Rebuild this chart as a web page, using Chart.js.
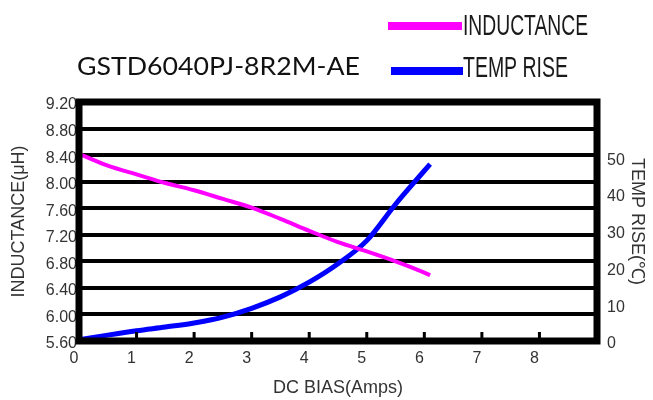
<!DOCTYPE html>
<html><head><meta charset="utf-8">
<script src="https://cdn.jsdelivr.net/npm/chart.js@4.4.1/dist/chart.umd.min.js"></script>
<style>html,body{margin:0;padding:0;background:#fff;} #wrap{width:653px;height:400px;position:relative;}</style>
</head><body><div id="wrap"><canvas id="c" width="653" height="400"></canvas></div>
<script>
const chartTitle = 'GSTD6040PJ-8R2M-AE';
const seriesNames = ['INDUCTANCE', 'TEMP RISE'];
const biasAmps   = [0, 0.5, 1, 1.5, 2, 2.5, 3, 3.5, 4, 4.5, 5, 5.5, 6, 6.1];
const inductance = [8.42, 8.24, 8.11, 7.98, 7.87, 7.74, 7.61, 7.44, 7.26, 7.09, 6.95, 6.80, 6.63, 6.59];
const tempRise   = [0.3, 1.6, 2.8, 3.8, 4.9, 6.5, 8.9, 12.0, 16.0, 21.0, 27.3, 37.2, 46.3, 48.1];
const xTickValues  = [0, 1, 2, 3, 4, 5, 6, 7, 8];
const yTickValues  = [5.6, 6.0, 6.4, 6.8, 7.2, 7.6, 8.0, 8.4, 8.8, 9.2];
const y1TickValues = [0, 10, 20, 30, 40, 50];
const xTitle = 'DC BIAS(Amps)';
const yTitle = 'INDUCTANCE(μH)';
const y1Title = 'TEMP RISE(℃)';

function fitText(ctx, text, x, baseline, targetW, capH, family, color) {
  const size = capH / 0.716;
  ctx.save();
  ctx.font = size + 'px ' + family;
  const w = ctx.measureText(text).width;
  ctx.translate(x, baseline);
  ctx.scale(targetW / w, 1);
  ctx.fillStyle = color;
  ctx.textBaseline = 'alphabetic';
  ctx.textAlign = 'left';
  ctx.fillText(text, 0, 0);
  ctx.restore();
}

const deco = {
  id: 'deco',
  afterDatasetsDraw(chart) {
    const ctx = chart.ctx, a = chart.chartArea, xs = chart.scales.x;
    ctx.save();
    ctx.fillStyle = '#000';
    for (let v = 1; v <= 8; v++) {
      const px = xs.getPixelForValue(v);
      ctx.fillRect(px - 1.5, a.bottom - 9, 3, 6);
    }
    ctx.strokeStyle = '#000';
    ctx.lineWidth = 7;
    ctx.strokeRect(a.left, a.top, a.right - a.left, a.bottom - a.top);
    ctx.restore();
  },
  afterDraw(chart) {
    const ctx = chart.ctx;
    fitText(ctx, chartTitle, 77, 75, 283, 18, 'Lato', '#111');
    ctx.save();
    ctx.fillStyle = '#ff00ff';
    ctx.fillRect(388, 22, 74, 8);
    ctx.fillStyle = '#0000ff';
    ctx.fillRect(391, 67, 72, 8);
    ctx.restore();
    fitText(ctx, seriesNames[0], 463, 35, 125, 21, '"Liberation Sans"', '#1a1a1a');
    fitText(ctx, seriesNames[1], 463, 77, 105, 21, '"Liberation Sans"', '#1a1a1a');
  }
};

const tickFont = {family: '"Liberation Sans"', size: 16};
const titleFont = {family: '"Liberation Sans"', size: 18};

new Chart(document.getElementById('c'), {
  type: 'line',
  data: {
    datasets: [
      {label: seriesNames[0], data: biasAmps.map((x, i) => ({x, y: inductance[i]})),
       borderColor: '#ff00ff', borderWidth: 4, pointRadius: 0, yAxisID: 'y',
       cubicInterpolationMode: 'monotone', fill: false},
      {label: seriesNames[1], data: biasAmps.map((x, i) => ({x, y: tempRise[i]})),
       borderColor: '#0000ff', borderWidth: 5, pointRadius: 0, yAxisID: 'y1',
       cubicInterpolationMode: 'monotone', fill: false}
    ]
  },
  options: {
    responsive: false, animation: false, devicePixelRatio: 1,
    layout: {padding: {top: 102, left: 0, right: 0, bottom: 0}},
    plugins: {legend: {display: false}, tooltip: {enabled: false}},
    scales: {
      x: {
        type: 'linear', min: 0, max: 9,
        afterBuildTicks: s => { s.ticks = xTickValues.map(v => ({value: v})); },
        afterFit: s => { s.height = 59; },
        grid: {display: false, drawTicks: false},
        border: {display: false},
        ticks: {font: tickFont, color: '#333', padding: 8, labelOffset: -5, maxRotation: 0,
                callback: v => String(v)},
        title: {display: true, text: xTitle, font: titleFont, color: '#333', padding: {top: 0, bottom: 1}}
      },
      y: {
        type: 'linear', position: 'left', min: 5.6, max: 9.2,
        afterBuildTicks: s => { s.ticks = yTickValues.map(v => ({value: v})); },
        afterFit: s => { s.width = 79; },
        grid: {color: '#000', lineWidth: 4, drawTicks: false},
        border: {display: false},
        ticks: {font: tickFont, color: '#333', padding: 2, labelOffset: 3,
                callback: v => Number(v).toFixed(2)},
        title: {display: true, text: yTitle, font: titleFont, color: '#333', padding: {top: 8, bottom: 0}}
      },
      y1: {
        type: 'linear', position: 'right', min: 0, max: 65,
        afterBuildTicks: s => { s.ticks = y1TickValues.map(v => ({value: v})); },
        afterFit: s => { s.width = 56; },
        grid: {display: false, drawTicks: false},
        border: {display: false},
        ticks: {font: tickFont, color: '#333', padding: 10, labelOffset: 3,
                callback: v => String(v)},
        title: {display: true, text: y1Title, font: titleFont, color: '#333', padding: {top: 5, bottom: 0}}
      }
    }
  },
  plugins: [deco]
});
</script>
</body></html>
